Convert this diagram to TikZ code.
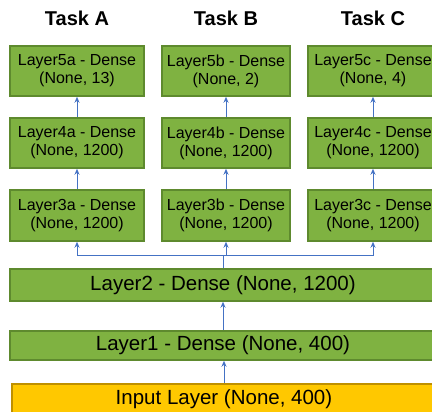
\documentclass[tikz,border=0pt]{standalone}
\usepackage{fontspec}
\setmainfont{Liberation Sans}
\usetikzlibrary{arrows.meta}
\definecolor{boxgreen}{HTML}{7FB241}
\definecolor{boxgreenline}{HTML}{5E8A2E}
\definecolor{boxyellow}{HTML}{FFC800}
\definecolor{boxyellowline}{HTML}{BF9000}
\definecolor{arrowblue}{HTML}{4472C4}
\tikzset{
  greenbox/.style={draw=boxgreenline, fill=boxgreen, line width=1.5pt, rectangle, inner sep=0pt,
    align=center, font=\fontsize{16}{18}\selectfont},
  taskbox/.style={greenbox, minimum height=50pt},
  widebox/.style={greenbox, minimum width=426pt, font=\fontsize{20.5}{22}\selectfont},
  inputbox/.style={draw=boxyellowline, fill=boxyellow, line width=1.5pt, rectangle, inner sep=0pt,
    minimum width=424pt, minimum height=30pt, font=\fontsize{20.5}{22}\selectfont},
  title/.style={font=\fontsize{20}{22}\selectfont\bfseries, inner sep=0pt},
  arr/.style={draw=arrowblue, line width=1pt, -{Stealth[length=6pt,width=5pt]}},
  ln/.style={draw=arrowblue, line width=1pt},
}
\begin{document}
\begin{tikzpicture}[x=1pt, y=-1pt]
\useasboundingbox (0,0) rectangle (432,412);
% titles
\node[title] (tA) at (77,18) {Task A};
\node[title] (tB) at (226,18) {Task B};
\node[title] (tC) at (373,18) {Task C};
% layer 5
\node[taskbox, minimum width=134pt] (L5a) at (77,71) {Layer5a - Dense\\(None, 13)};
\node[taskbox, minimum width=128pt] (L5b) at (226,71) {Layer5b - Dense\\(None, 2)};
\node[taskbox, minimum width=130pt] (L5c) at (373,71) {Layer5c - Dense\\(None, 4)};
% layer 4
\node[taskbox, minimum width=134pt] (L4a) at (77,143) {Layer4a - Dense\\(None, 1200)};
\node[taskbox, minimum width=128pt] (L4b) at (226,143) {Layer4b - Dense\\(None, 1200)};
\node[taskbox, minimum width=130pt] (L4c) at (373,143) {Layer4c - Dense\\(None, 1200)};
% layer 3
\node[taskbox, minimum width=134pt, minimum height=51pt] (L3a) at (77,215.5) {Layer3a - Dense\\(None, 1200)};
\node[taskbox, minimum width=128pt, minimum height=51pt] (L3b) at (226,215.5) {Layer3b - Dense\\(None, 1200)};
\node[taskbox, minimum width=130pt, minimum height=51pt] (L3c) at (373,215.5) {Layer3c - Dense\\(None, 1200)};
% shared layers
\node[widebox, minimum height=32pt] (L2) at (223,285) {Layer2 - Dense (None, 1200)};
\node[widebox, minimum height=29pt] (L1) at (223,345.5) {Layer1 - Dense (None, 400)};
\node[inputbox] (In) at (224,399) {Input Layer (None, 400)};
% connectors
\draw[arr] (L4a.north) -- (L5a.south);
\draw[arr] (L4b.north) -- (L5b.south);
\draw[arr] (L4c.north) -- (L5c.south);
\draw[arr] (L3a.north) -- (L4a.south);
\draw[arr] (L3b.north) -- (L4b.south);
\draw[arr] (L3c.north) -- (L4c.south);
\coordinate (j) at (223,256);
\draw[ln] (L2.north) -- (j);
\draw[arr] (j) -| (L3a.south);
\draw[arr] (j) -| (L3b.south);
\draw[arr] (j) -| (L3c.south);
\draw[arr] (L1.north) -- (L2.south);
\draw[arr] (In.north) -- (In.north |- L1.south);
\end{tikzpicture}
\end{document}
